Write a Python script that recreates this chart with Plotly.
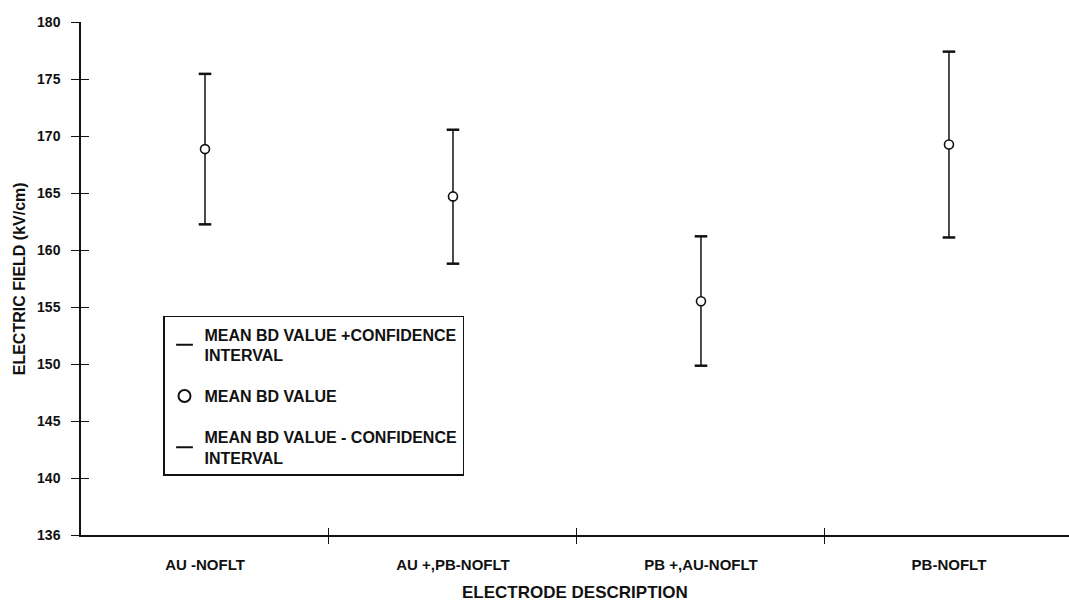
import plotly.graph_objects as go

categories = ["AU -NOFLT", "AU +,PB-NOFLT", "PB +,AU-NOFLT", "PB-NOFLT"]
mean_bd = [168.85, 164.7, 155.5, 169.25]
upper_ci = [175.45, 170.55, 161.2, 177.4]
lower_ci = [162.25, 158.8, 149.85, 161.1]
y_tickvals = [135, 140, 145, 150, 155, 160, 165, 170, 175, 180]
y_ticktext = ["136", "140", "145", "150", "155", "160", "165", "170", "175", "180"]

xpos = list(range(len(categories)))
bounds = [i + 0.5 for i in range(len(categories) - 1)]

FONT = "Liberation Sans, Arial, sans-serif"
INK = "#111111"

fig = go.Figure()

fig.add_trace(go.Scatter(
    x=xpos, y=upper_ci, mode="markers", legendgroup="g1",
    name="MEAN BD VALUE +CONFIDENCE<br>INTERVAL",
    marker=dict(symbol="line-ew", size=9, color=INK, line=dict(color=INK, width=2.5)),
    hoverinfo="skip"))

fig.add_trace(go.Scatter(
    x=xpos, y=mean_bd, mode="markers", legendgroup="g2",
    name="MEAN BD VALUE",
    marker=dict(symbol="circle", size=9, color="white", line=dict(color=INK, width=1.6)),
    error_y=dict(type="data", symmetric=False,
                 array=[u - m for u, m in zip(upper_ci, mean_bd)],
                 arrayminus=[m - l for m, l in zip(mean_bd, lower_ci)],
                 width=0, thickness=1.5, color=INK),
    hoverinfo="skip"))

fig.add_trace(go.Scatter(
    x=xpos, y=lower_ci, mode="markers", legendgroup="g3",
    name="MEAN BD VALUE - CONFIDENCE<br>INTERVAL",
    marker=dict(symbol="line-ew", size=9, color=INK, line=dict(color=INK, width=2.5)),
    hoverinfo="skip"))

# helper trace for the overlaid axes carrying the inner half of the crossing ticks
fig.add_trace(go.Scatter(
    x=xpos, y=mean_bd, xaxis="x2", yaxis="y2", mode="markers",
    marker=dict(opacity=0), showlegend=False, hoverinfo="skip"))

xr = [-0.5, 3.484]
yr = [135, 180]

fig.update_layout(
    width=1069, height=604,
    margin=dict(l=81, r=0, t=22, b=69),
    paper_bgcolor="white", plot_bgcolor="white",
    font=dict(family=FONT, size=13, color=INK, weight=700),
    showlegend=True,
    legend=dict(
        x=0.083, y=0.427, xanchor="left", yanchor="top",
        bgcolor="white", bordercolor=INK, borderwidth=1.5,
        font=dict(family=FONT, size=16, color=INK, weight=700),
        tracegroupgap=17, itemsizing="constant",
    ),
    xaxis=dict(
        range=xr, tickmode="array", tickvals=xpos, ticktext=categories,
        ticks="", showgrid=False, zeroline=False, automargin=False,
        showline=True, linecolor=INK, linewidth=1.5,
        tickfont=dict(family=FONT, size=15, color=INK, weight=700),
        ticklabelstandoff=15,
        minor=dict(tickmode="array", tickvals=bounds, ticks="outside",
                   ticklen=7, tickwidth=1.2, tickcolor=INK, showgrid=False),
    ),
    xaxis2=dict(
        range=xr, overlaying="x", side="bottom", tickmode="array", automargin=False,
        tickvals=bounds, ticks="inside", ticklen=7, tickwidth=1.2, tickcolor=INK,
        showticklabels=False, showgrid=False, zeroline=False, showline=False,
    ),
    yaxis=dict(
        range=yr, tickmode="array", tickvals=y_tickvals, ticktext=y_ticktext,
        ticks="outside", ticklen=8, tickwidth=1.2, tickcolor=INK,
        showgrid=False, zeroline=False, automargin=False,
        showline=True, linecolor=INK, linewidth=1.5,
        tickfont=dict(family=FONT, size=14, color=INK, weight=700),
        ticklabelstandoff=8,
    ),
    yaxis2=dict(
        range=yr, overlaying="y", side="left", tickmode="array", automargin=False,
        tickvals=y_tickvals, ticks="inside", ticklen=8, tickwidth=1.2, tickcolor=INK,
        showticklabels=False, showgrid=False, zeroline=False, showline=False,
    ),
    annotations=[
        dict(text="ELECTRIC FIELD (kV/cm)", xref="paper", yref="paper",
             x=-0.062, y=0.5, xanchor="center", yanchor="middle", textangle=-90,
             showarrow=False, font=dict(family=FONT, size=16, color=INK, weight=700)),
        dict(text="ELECTRODE DESCRIPTION",
             xref="paper", yref="paper",
             x=0.5, y=-0.113, xanchor="center", yanchor="middle",
             showarrow=False, font=dict(family=FONT, size=17, color=INK, weight=700)),
    ],
)

fig.write_html(
    "out.html",
    config={"displayModeBar": False},
    post_script="document.body.style.margin='0';document.body.style.overflow='hidden';",
)
